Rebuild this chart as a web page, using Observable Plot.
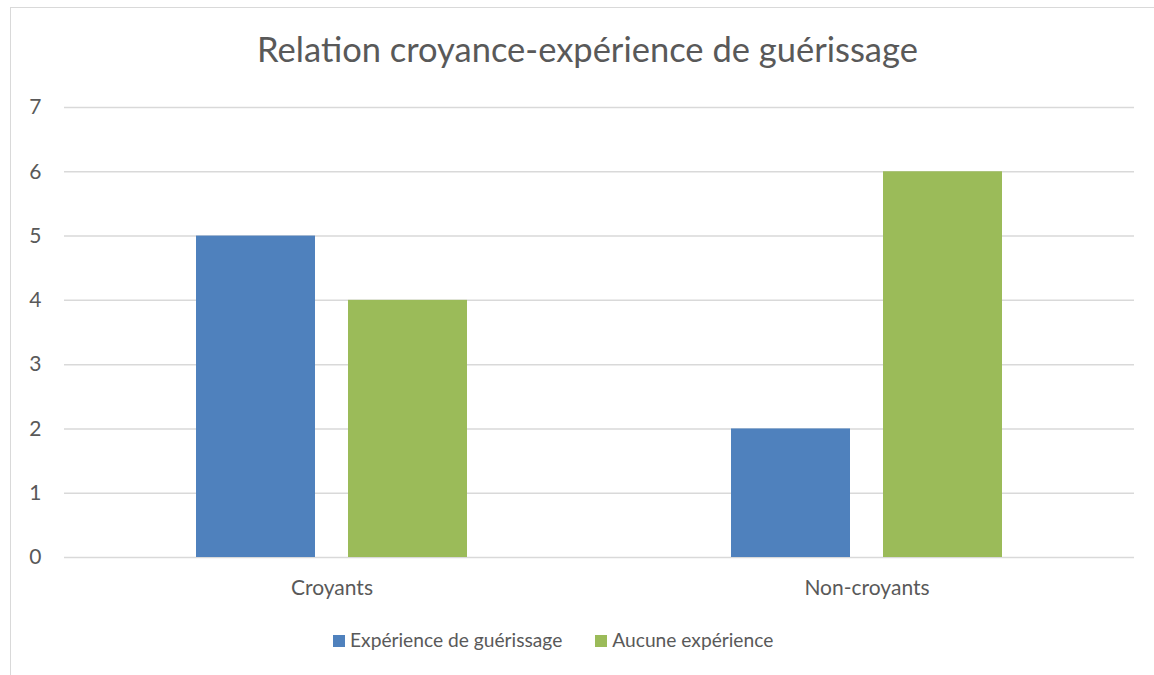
<!DOCTYPE html>
<html><head><meta charset="utf-8">
<script src="https://cdn.jsdelivr.net/npm/d3@7"></script>
<script src="https://cdn.jsdelivr.net/npm/@observablehq/plot@0.6"></script>
<style>
body{margin:0;background:#fff;font-family:"Lato",sans-serif;}
#wrap{position:relative;width:1154px;height:675px;overflow:hidden;background:#fff;}
#frame{position:absolute;left:10px;top:7px;width:1300px;height:800px;border-left:1.5px solid #d9d9d9;border-top:1.5px solid #d9d9d9;}
#title{position:absolute;left:0;width:1175px;top:29px;text-align:center;font-size:34.5px;line-height:40px;color:#595959;white-space:nowrap;}
#chart{position:absolute;left:0;top:80px;}
#legend{position:absolute;left:333px;top:627px;display:flex;align-items:center;font-size:19.2px;color:#595959;white-space:nowrap;line-height:26px;}
.item{display:flex;align-items:center;margin-right:33px;}
.sw{width:12px;height:12px;margin-right:5px;margin-top:2px;}
</style>
</head><body>
<div id="wrap">
  <div id="frame"></div>
  <div id="title"></div>
  <div id="chart"></div>
  <div id="legend"></div>
</div>
<script>
const title = "Relation croyance-expérience de guérissage";
const categories = ["Croyants", "Non-croyants"];
const series = ["Expérience de guérissage", "Aucune expérience"];
const experience = [5, 2];
const aucune = [4, 6];
const colors = ["#4F81BD", "#9BBB59"];
const yTicks = [0, 1, 2, 3, 4, 5, 6, 7];

document.getElementById("title").textContent = title;

const data = categories.flatMap((c, i) => [
  {category: c, series: series[0], value: experience[i]},
  {category: c, series: series[1], value: aucune[i]}
]);

const chart = Plot.plot({
  width: 1154, height: 530,
  marginLeft: 63, marginRight: 20, marginTop: 27, marginBottom: 53,
  style: {fontFamily: "Lato", fontSize: "21px", color: "#595959", background: "transparent", overflow: "visible"},
  fx: {domain: categories, padding: 0, label: null, tickSize: 0, tickPadding: 23},
  x: {domain: series, paddingInner: 0.2157, paddingOuter: 0.858, axis: null},
  y: {domain: [0, 7], ticks: yTicks, tickFormat: d => String(d), label: null, tickSize: 0, tickPadding: 23},
  color: {domain: series, range: colors},
  marks: [
    Plot.gridY(yTicks, {stroke: "#d9d9d9", strokeOpacity: 1, strokeWidth: 1.5}),
    Plot.barY(data, {fx: "category", x: "series", y: "value", fill: "series"})
  ]
});
document.getElementById("chart").appendChild(chart);

const legend = document.getElementById("legend");
series.forEach((s, i) => {
  const item = document.createElement("div");
  item.className = "item";
  const sw = document.createElement("div");
  sw.className = "sw";
  sw.style.background = colors[i];
  const t = document.createElement("span");
  t.textContent = s;
  item.appendChild(sw);
  item.appendChild(t);
  legend.appendChild(item);
});
</script>
</body></html>
